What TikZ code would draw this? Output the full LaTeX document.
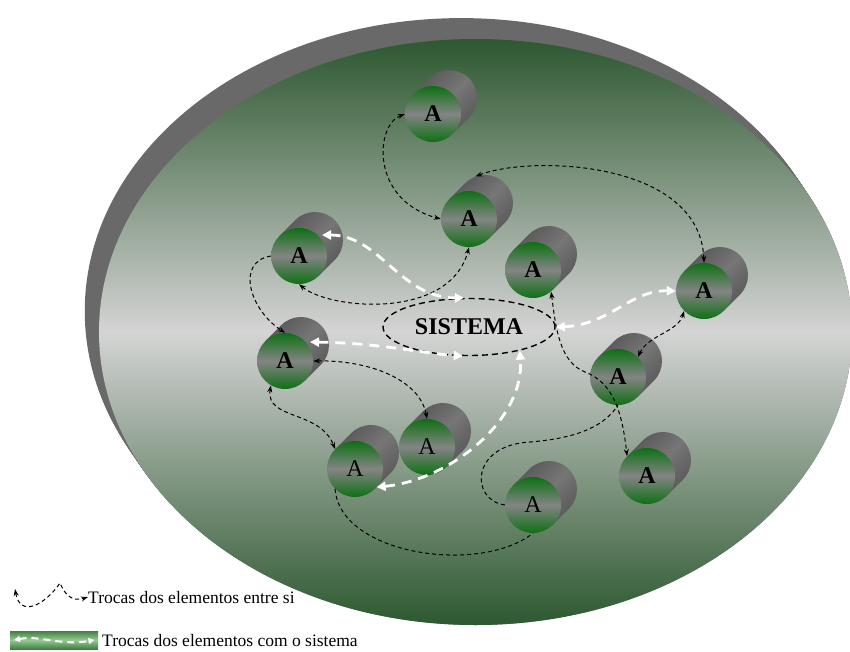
\documentclass[tikz,border=0pt]{standalone}
\usepackage{fontspec}
\setmainfont{Liberation Serif}
\usetikzlibrary{shapes.geometric,arrows.meta}

\definecolor{platDark}{RGB}{45,88,48}
\definecolor{platLight}{RGB}{212,212,212}
\definecolor{rimGray}{RGB}{105,105,105}
\definecolor{faceGreen}{RGB}{14,112,20}
\definecolor{faceGray}{RGB}{132,132,132}
\definecolor{bodyDark}{RGB}{88,88,88}
\definecolor{bodyLight}{RGB}{118,118,118}
\definecolor{keyDark}{RGB}{64,128,64}
\definecolor{keyLight}{RGB}{150,200,150}

\begin{document}
\begin{tikzpicture}[x=1pt, y=-1pt,
    face/.style={circle, inner sep=0pt, minimum size=56pt,
        top color=faceGreen, bottom color=faceGreen, middle color=faceGray,
        font=\fontsize{24}{24}\selectfont},
    heavy/.style={font=\fontsize{24}{24}\selectfont\bfseries},
    light/.style={},
    rear/.style={circle, inner sep=0pt, minimum size=56pt},
    body/.style={top color=bodyDark, bottom color=bodyDark, middle color=bodyLight, shading angle=45},
    troca/.style={>={Stealth[length=7pt,width=5pt]}, black, line width=1pt, dash pattern=on 4pt off 3pt},
    sysflow/.style={>={Triangle[length=9pt,width=9pt]}, <->, white, line width=2.8pt, dash pattern=on 10pt off 7pt},
    legend/.style={inner sep=0pt, anchor=base west, font=\fontsize{17.5}{20}\selectfont}]
\useasboundingbox (0,0) rectangle (850,652);

% PLATFORM
\foreach \t in {0,0.05,...,1}
  \fill[rimGray] ({475.5-15*\t},{332-22*\t}) ellipse [x radius=376.5, y radius=293];
\shade[top color=platDark, bottom color=platDark, middle color=platLight]
  (475.5,332) ellipse [x radius=376.5, y radius=293];

% ELEMENTS
\foreach \n/\x/\y/\w in {a1/433/114/heavy, a2/469/219/heavy, a3/299/256/heavy,
    a4/533/270/heavy, a5/704/291/heavy, a6/285/361/heavy, a7/618/377/heavy,
    a8/427/447/light, a9/355/469/light, a10/647/476/heavy, a11/533/505/light}{
  \shade[body] (\x,\y) ++(225:28) -- ++(16,-16)
    arc[start angle=225, end angle=405, radius=28] -- ++(-16,16) -- cycle;
  \node[rear] (\n-rear) at (\x+16,\y-16) {};
  \node[face,\w] (\n) at (\x,\y) {A};
}

% SYSTEM
\node[ellipse, draw, line width=1.4pt, dash pattern=on 6pt off 4pt,
  minimum width=172pt, minimum height=57pt, inner sep=0pt,
  font=\fontsize{24}{24}\selectfont\bfseries] (sys) at (469,327) {SISTEMA};

% exchanges between elements
\draw[troca,<->] (a1.west) .. controls (375,125) and (370,200) .. (a2.west);
\draw[troca,<->] (a2-rear.110) .. controls (530,155) and (700,160) .. (a5.north);
\draw[troca,<->] (a3.south) .. controls (330,310) and (450,320) .. (a2.south);
\draw[troca,->] (a3.west) .. controls (235,262) and (250,310) .. (a6.north);
\draw[troca,<->] (a6.east) .. controls (370,360) and (420,380) .. (a8.north);
\draw[troca,<->] (a6.240) .. controls (265,420) and (320,410) .. (a9.north west);
\draw[troca] (a9.south west) .. controls (340,555) and (480,575) .. (a11.south);
\draw[troca] (a11.west) .. controls (470,500) and (470,445) .. (530,442)
  .. controls (580,438) and (605,425) .. (a7.south);
\draw[troca,<->] (a4.-50) .. controls (556,330) and (560,362) .. (585,372)
  .. controls (612,382) and (622,410) .. (a10.north west);
\draw[troca,<->] (a7.north east) .. controls (648,335) and (678,332) .. (a5.south west);

% exchanges with the system
\draw[sysflow] ([shift={(7,-5)}]a3-rear.center) .. controls (380,235) and (400,298) .. (sys.100);
\draw[sysflow] ([shift={(9,-3)}]a6-rear.center) .. controls (380,343) and (420,353) .. (sys.258);
\draw[sysflow] (a9.-40) .. controls (450,480) and (525,420) .. (sys.-25);
\draw[sysflow] (sys.east) .. controls (610,325) and (630,290) .. (a5.west);

% LEGEND
\node[legend] (lg1) at (88,603) {Trocas dos elementos entre si};
\coordinate (lg1s) at (15,589);
\draw[troca,<->] (lg1s) .. controls (20,618) and (45,605) .. (60,583)
  .. controls (65,595) and (72,602) .. (lg1.west);
\node[anchor=west, minimum width=88pt, minimum height=18pt, inner sep=0pt,
  top color=keyDark, bottom color=keyDark, middle color=keyLight] (key) at (10,640) {};
\node[legend] (lg2) at (102,646) {Trocas dos elementos com o sistema};
\draw[sysflow, line width=2pt, dash pattern=on 7pt off 5pt, >={Triangle[length=6pt,width=6pt]}]
  ([xshift=4]key.west) .. controls (40,635) and (60,646) .. ([xshift=-4]key.east);

\end{tikzpicture}
\end{document}
